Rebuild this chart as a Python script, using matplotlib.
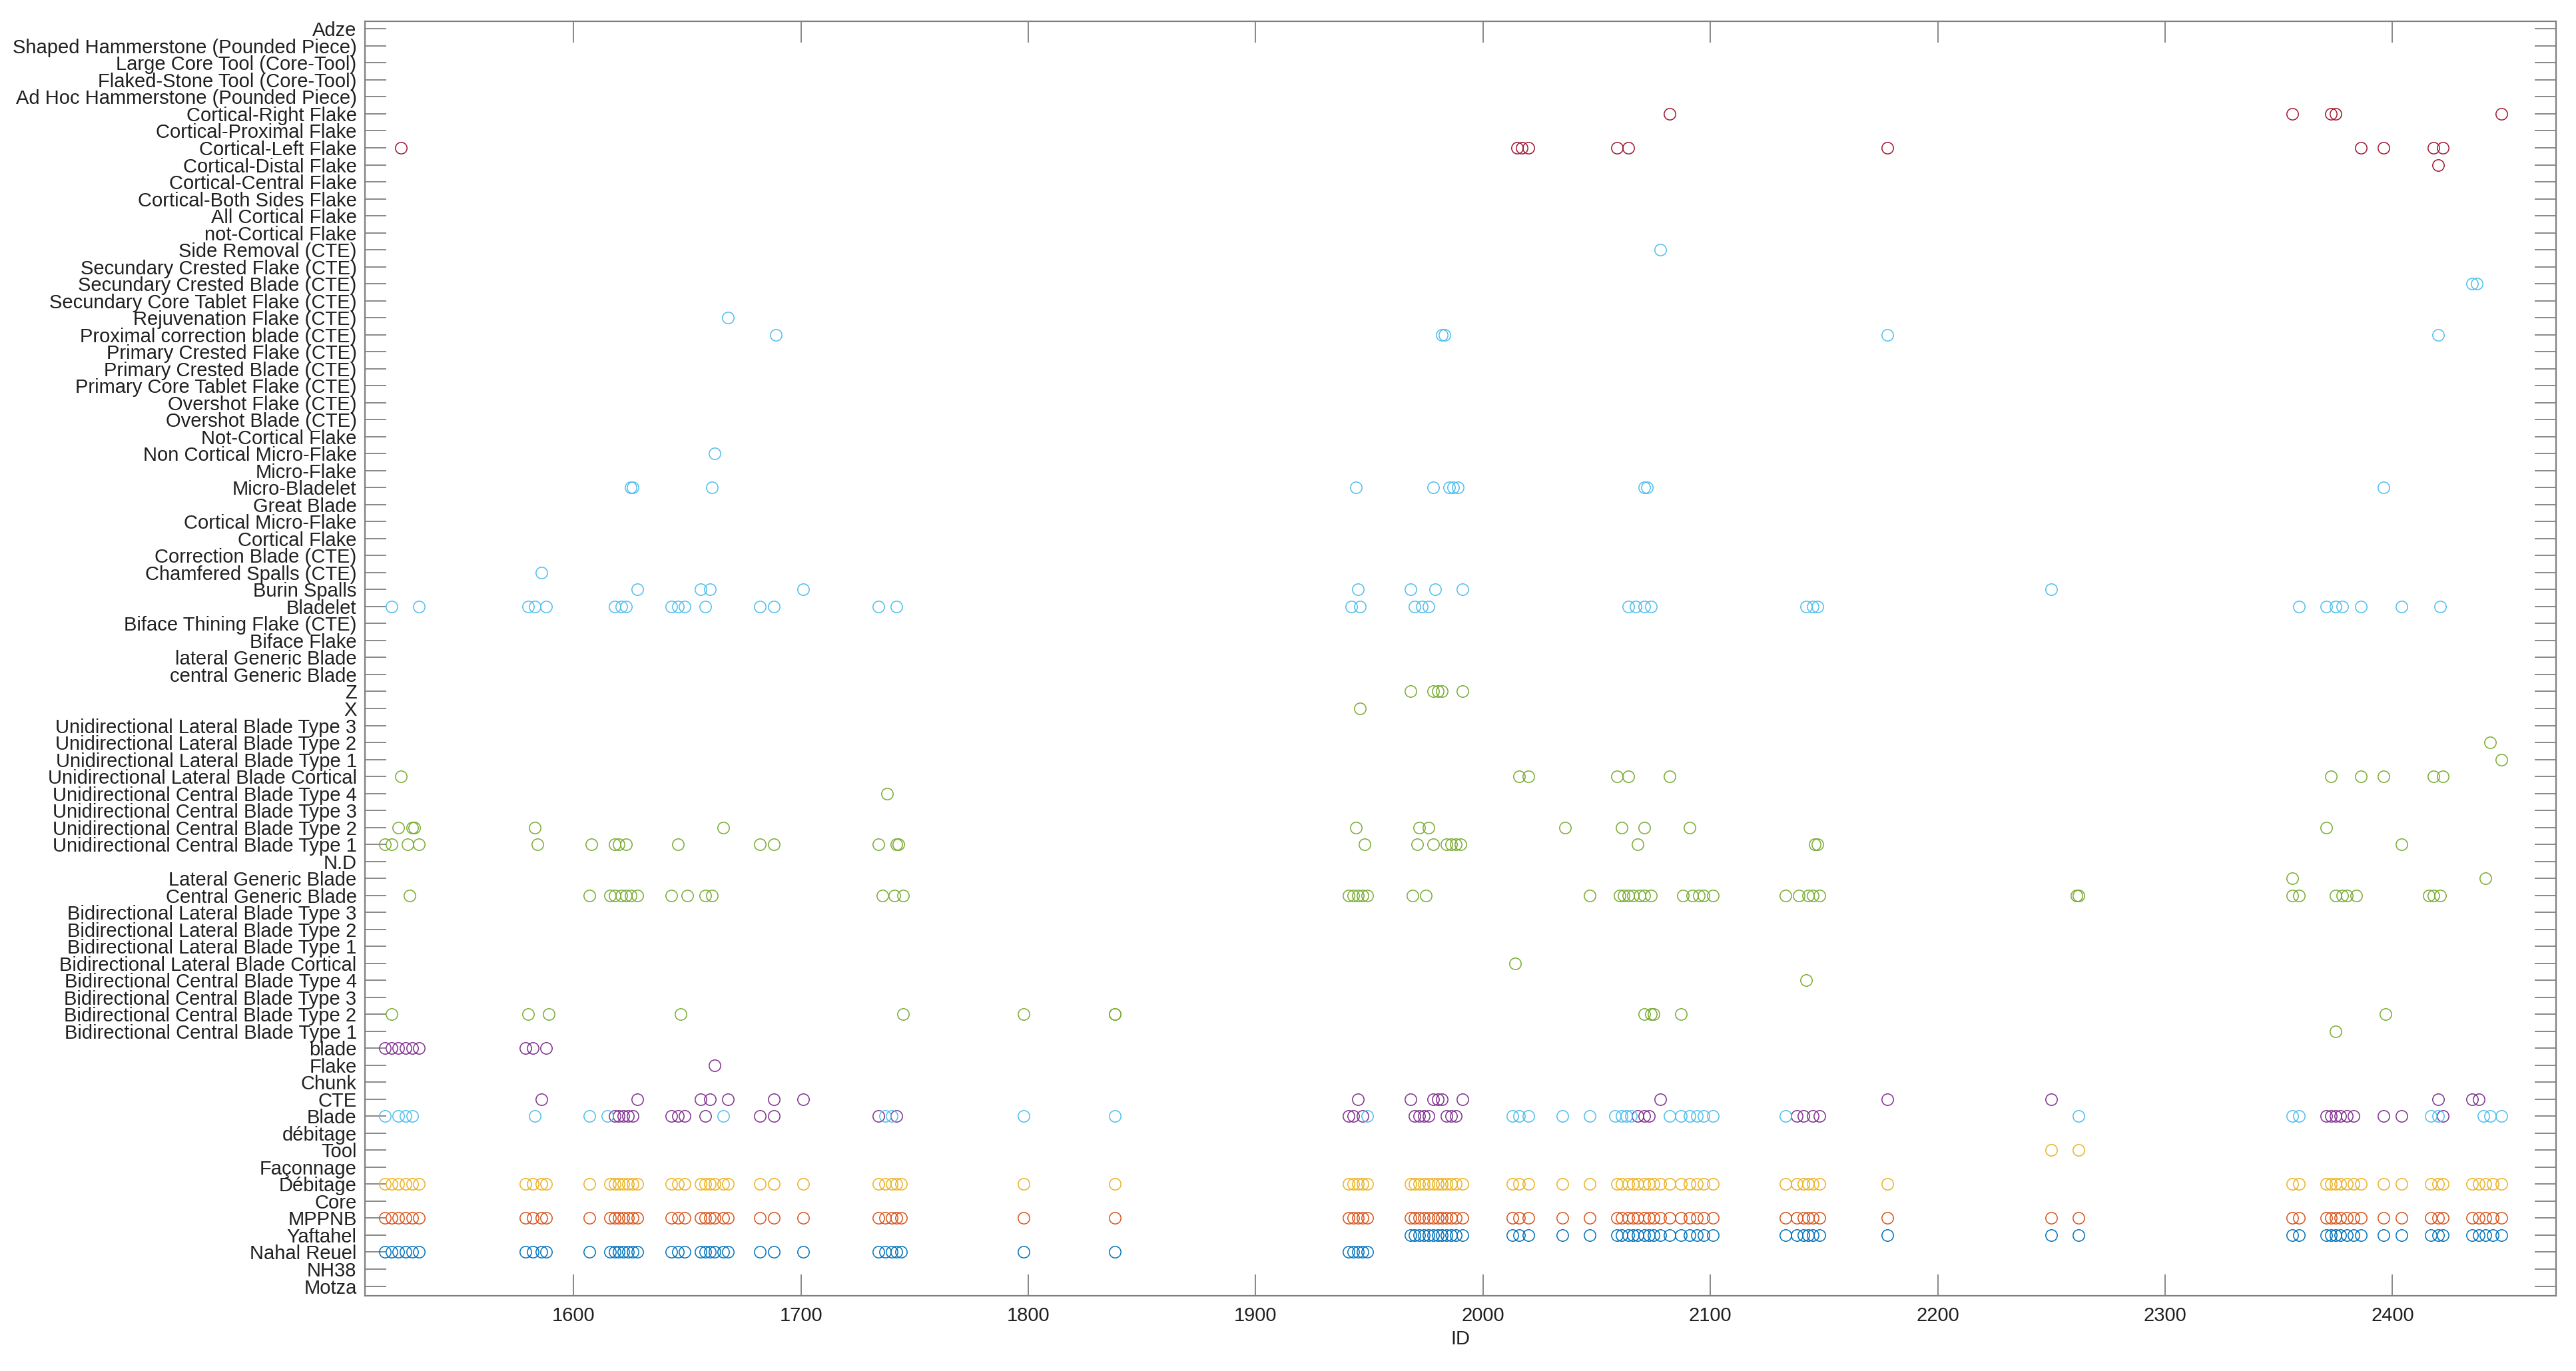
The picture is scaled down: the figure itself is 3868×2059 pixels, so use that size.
import matplotlib.pyplot as plt

# y categories, top to bottom
categories = [
    "Adze", "Shaped Hammerstone (Pounded Piece)", "Large Core Tool (Core-Tool)",
    "Flaked-Stone Tool (Core-Tool)", "Ad Hoc Hammerstone (Pounded Piece)",
    "Cortical-Right Flake", "Cortical-Proximal Flake", "Cortical-Left Flake",
    "Cortical-Distal Flake", "Cortical-Central Flake", "Cortical-Both Sides Flake",
    "All Cortical Flake", "not-Cortical Flake", "Side Removal (CTE)",
    "Secundary Crested Flake (CTE)", "Secundary Crested Blade (CTE)",
    "Secundary Core Tablet Flake (CTE)", "Rejuvenation Flake (CTE)",
    "Proximal correction blade (CTE)", "Primary Crested Flake (CTE)",
    "Primary Crested Blade (CTE)", "Primary Core Tablet Flake (CTE)",
    "Overshot Flake (CTE)", "Overshot Blade (CTE)", "Not-Cortical Flake",
    "Non Cortical Micro-Flake", "Micro-Flake", "Micro-Bladelet", "Great Blade",
    "Cortical Micro-Flake", "Cortical Flake", "Correction Blade (CTE)",
    "Chamfered Spalls (CTE)", "Burin Spalls", "Bladelet",
    "Biface Thining Flake (CTE)", "Biface Flake", "lateral Generic Blade",
    "central Generic Blade", "Z", "X",
    "Unidirectional Lateral Blade Type 3", "Unidirectional Lateral Blade Type 2",
    "Unidirectional Lateral Blade Type 1", "Unidirectional Lateral Blade Cortical",
    "Unidirectional Central Blade Type 4", "Unidirectional Central Blade Type 3",
    "Unidirectional Central Blade Type 2", "Unidirectional Central Blade Type 1",
    "N.D", "Lateral Generic Blade", "Central Generic Blade",
    "Bidirectional Lateral Blade Type 3", "Bidirectional Lateral Blade Type 2",
    "Bidirectional Lateral Blade Type 1", "Bidirectional Lateral Blade Cortical",
    "Bidirectional Central Blade Type 4", "Bidirectional Central Blade Type 3",
    "Bidirectional Central Blade Type 2", "Bidirectional Central Blade Type 1",
    "blade", "Flake", "Chunk", "CTE", "Blade", "débitage", "Tool", "Façonnage",
    "Débitage", "Core", "MPPNB", "Yaftahel", "Nahal Reuel", "NH38", "Motza",
]

# site
nahal_reuel = [1517, 1520, 1523, 1526, 1529, 1532, 1579, 1582, 1586, 1588, 1607,
               1616, 1618, 1620, 1622, 1624, 1626, 1628, 1643, 1646, 1649, 1656,
               1658, 1660, 1662, 1666, 1668, 1682, 1688, 1701, 1734, 1737, 1740,
               1742, 1744, 1798, 1838, 1941, 1943, 1945, 1947, 1949]
yaftahel = [1968, 1970, 1972, 1974, 1976, 1978, 1980, 1982, 1984, 1986, 1988, 1991,
            2013, 2016, 2020, 2035, 2047, 2059, 2061, 2064, 2066, 2068, 2071, 2073,
            2075, 2078, 2082, 2087, 2091, 2094, 2097, 2101, 2133, 2138, 2141, 2143,
            2145, 2148, 2178, 2250, 2262, 2356, 2359, 2371, 2373, 2375, 2377, 2380,
            2383, 2386, 2396, 2404, 2417, 2420, 2422, 2435, 2438, 2441, 2444, 2448]

# period: every piece is MPPNB
mppnb = nahal_reuel + yaftahel

# technology
tool = [2250, 2262]
debitage = [i for i in mppnb if i not in tool]

# blank (purple)
blank_blade_lc = [1517, 1520, 1523, 1526, 1529, 1532, 1579, 1582, 1588]
blank_flake = [1662]
blank_cte = [1586, 1628, 1656, 1660, 1668, 1688, 1701, 1945, 1968, 1978, 1980,
             1982, 1991, 2078, 2178, 2250, 2420, 2435, 2438]
blank_blade = [1618, 1620, 1622, 1624, 1626, 1643, 1646, 1649, 1658, 1682, 1688,
               1734, 1742, 1941, 1943, 1947, 1970, 1972, 1974, 1976, 1984, 1986,
               1988, 2068, 2071, 2073, 2138, 2141, 2145, 2148, 2371, 2373, 2375,
               2377, 2380, 2383, 2396, 2404, 2422]

# typology (green)
typ_z = [1968, 1978, 1980, 1982, 1991]
typ_x = [1946]
ul_type2 = [2443]
ul_type1 = [2448]
ul_cortical = [1524, 2016, 2020, 2059, 2064, 2082, 2373, 2386, 2396, 2418, 2422]
uc_type4 = [1738]
uc_type2 = [1523, 1529, 1530, 1583, 1666, 1944, 1972, 1976, 2036, 2061, 2071, 2091,
            2371]
uc_type1 = [1517, 1520, 1527, 1532, 1584, 1608, 1618, 1620, 1623, 1646, 1682, 1688,
            1734, 1742, 1743, 1948, 1971, 1978, 1984, 1986, 1988, 1990, 2068, 2146,
            2147, 2404]
lateral_generic = [2356, 2441]
central_generic = [1528, 1607, 1616, 1618, 1621, 1623, 1625, 1628, 1643, 1650, 1658,
                   1661, 1736, 1741, 1745, 1941, 1943, 1945, 1947, 1949, 1969, 1975,
                   2047, 2060, 2062, 2064, 2066, 2069, 2071, 2074, 2088, 2092, 2095,
                   2097, 2101, 2133, 2139, 2143, 2145, 2148, 2261, 2262, 2356, 2359,
                   2375, 2378, 2380, 2384, 2416, 2418, 2421]
bl_cortical = [2014]
bc_type4 = [2142]
bc_type2 = [1520, 1580, 1589, 1647, 1745, 1798, 1838, 1838, 2071, 2074, 2075, 2087,
            2397]
bc_type1 = [2375]

# blank type (light blue)
type_blade = [1517, 1523, 1526, 1529, 1583, 1607, 1615, 1666, 1737, 1740, 1798, 1838,
              1949, 2013, 2016, 2020, 2035, 2047, 2058, 2061, 2063, 2065, 2082, 2087,
              2091, 2094, 2097, 2101, 2133, 2262, 2356, 2359, 2417, 2420, 2440, 2443,
              2448]
bladelet = [1520, 1532, 1580, 1583, 1588, 1618, 1621, 1623, 1643, 1646, 1649, 1658,
            1682, 1688, 1734, 1742, 1942, 1946, 1970, 1973, 1976, 2064, 2067, 2071,
            2074, 2142, 2145, 2147, 2359, 2371, 2375, 2378, 2386, 2404, 2421]
burin_spalls = [1628, 1656, 1660, 1701, 1945, 1968, 1979, 1991, 2250]
chamfered_spalls = [1586]
micro_bladelet = [1625, 1626, 1661, 1944, 1978, 1985, 1987, 1989, 2071, 2072, 2396]
non_cortical_micro_flake = [1662]
proximal_correction = [1689, 1982, 1983, 2178, 2420]
rejuvenation = [1668]
side_removal = [2078]
sec_crested_blade = [2435, 2437]

# cortex (dark red)
cortical_right = [2082, 2356, 2373, 2375, 2448]
cortical_left = [1524, 2015, 2017, 2020, 2059, 2064, 2178, 2386, 2396, 2418, 2422]
cortical_distal = [2420]

series = [
    ("#0072BD", [("Nahal Reuel", nahal_reuel), ("Yaftahel", yaftahel)]),
    ("#D95319", [("MPPNB", mppnb)]),
    ("#EDB120", [("Débitage", debitage), ("Tool", tool)]),
    ("#7E2F8E", [("blade", blank_blade_lc), ("Flake", blank_flake),
                 ("CTE", blank_cte), ("Blade", blank_blade)]),
    ("#77AC30", [("Z", typ_z), ("X", typ_x),
                 ("Unidirectional Lateral Blade Type 2", ul_type2),
                 ("Unidirectional Lateral Blade Type 1", ul_type1),
                 ("Unidirectional Lateral Blade Cortical", ul_cortical),
                 ("Unidirectional Central Blade Type 4", uc_type4),
                 ("Unidirectional Central Blade Type 2", uc_type2),
                 ("Unidirectional Central Blade Type 1", uc_type1),
                 ("Lateral Generic Blade", lateral_generic),
                 ("Central Generic Blade", central_generic),
                 ("Bidirectional Lateral Blade Cortical", bl_cortical),
                 ("Bidirectional Central Blade Type 4", bc_type4),
                 ("Bidirectional Central Blade Type 2", bc_type2),
                 ("Bidirectional Central Blade Type 1", bc_type1)]),
    ("#4DBEEE", [("Blade", type_blade), ("Bladelet", bladelet),
                 ("Burin Spalls", burin_spalls),
                 ("Chamfered Spalls (CTE)", chamfered_spalls),
                 ("Micro-Bladelet", micro_bladelet),
                 ("Non Cortical Micro-Flake", non_cortical_micro_flake),
                 ("Proximal correction blade (CTE)", proximal_correction),
                 ("Rejuvenation Flake (CTE)", rejuvenation),
                 ("Side Removal (CTE)", side_removal),
                 ("Secundary Crested Blade (CTE)", sec_crested_blade)]),
    ("#A2142F", [("Cortical-Right Flake", cortical_right),
                 ("Cortical-Left Flake", cortical_left),
                 ("Cortical-Distal Flake", cortical_distal)]),
]

plt.rcParams['font.family'] = ['Liberation Sans', 'DejaVu Sans']

n = len(categories)
ypos = {c: n - 1 - i for i, c in enumerate(categories)}

fig = plt.figure(figsize=(38.68, 20.59), dpi=100)
ax = fig.add_axes([0.1417, 0.0551, 0.8506, 0.9294])

for color, rows in series:
    xs, ys = [], []
    for cat, ids in rows:
        xs += ids
        ys += [ypos[cat]] * len(ids)
    ax.plot(xs, ys, linestyle='none', marker='o', markersize=12.5,
            markerfacecolor='none', markeredgecolor=color, markeredgewidth=1.1)

ax.set_xlim(1508.3, 2472)
ax.set_ylim(-0.55, n - 0.55)
ax.set_yticks(range(n))
ax.set_yticklabels(categories[::-1])
ax.set_xticks(range(1600, 2401, 100))
ax.tick_params(direction='in', top=True, right=True, length=23, width=1.3,
               color='#7f7f7f', labelsize=21, labelcolor='#202020')
ax.tick_params(axis='y', pad=9)
ax.tick_params(axis='x', pad=12)
for s in ax.spines.values():
    s.set_color('#7f7f7f')
    s.set_linewidth(1.6)
ax.set_xlabel('ID', fontsize=21, color='#202020', labelpad=5)

fig.savefig('out.png', dpi=100)
